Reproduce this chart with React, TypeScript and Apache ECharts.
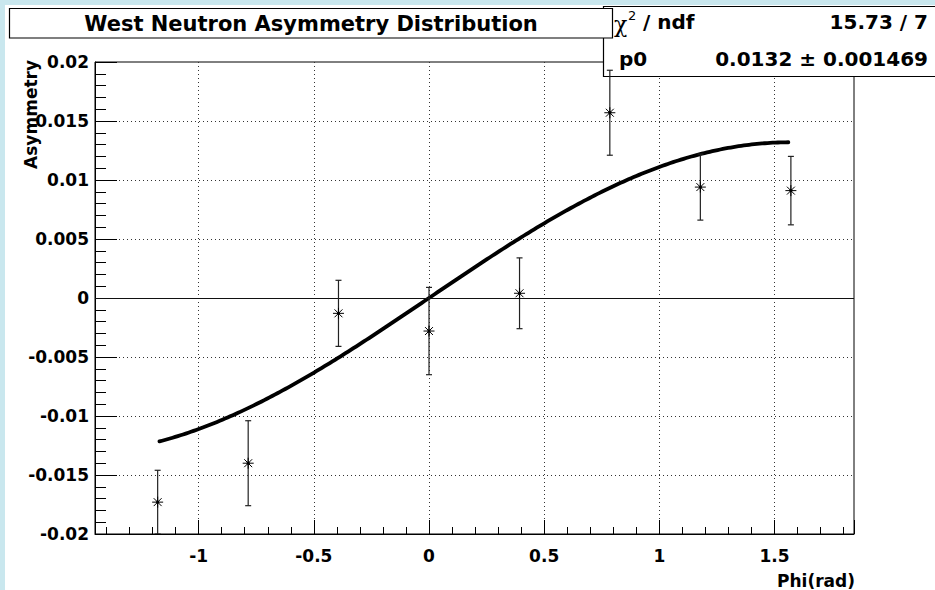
import React, { useEffect, useRef } from "react";
import * as echarts from "echarts";

// Measured asymmetry per phi bin (bin centres are multiples of pi/8)
const phiBins = [-1.178, -0.785, -0.393, 0, 0.393, 0.785, 1.178, 1.571];
const asymmetry = [-0.0173, -0.014, -0.0013, -0.0028, 0.0004, 0.0157, 0.0094, 0.0091];
const asymErr = [0.0027, 0.0036, 0.0028, 0.0037, 0.003, 0.0036, 0.0028, 0.0029];

// Fit p0 * sin(phi) and its statistics
const fitP0 = 0.0132;
const fitP0Err = 0.001469;
const chi2 = 15.73;
const ndf = 7;
const fitRange = [-1.17, 1.56];

// Axis ranges
const xRange = [-1.45, 1.845];
const yRange = [-0.02, 0.02];
const yTickStep = 0.005;

const titleText = "West Neutron Asymmetry Distribution";
const xTitle = "Phi(rad)";
const yTitle = "Asymmetry";

const FONT = '"DejaVu Sans", "Liberation Sans", Arial, sans-serif';

function buildFitCurve(): number[][] {
  const pts: number[][] = [];
  const n = 240;
  for (let i = 0; i <= n; i++) {
    const phi = fitRange[0] + ((fitRange[1] - fitRange[0]) * i) / n;
    pts.push([phi, fitP0 * Math.sin(phi)]);
  }
  return pts;
}

function buildOption(): any {
  const points = phiBins.map((p, i) => [p, asymmetry[i], asymErr[i]]);
  const axisLabelStyle = {
    fontFamily: FONT,
    fontWeight: "bold",
    fontSize: 17,
    color: "#000",
  };
  const gridLine = { show: true, showMinLine: false, showMaxLine: false, lineStyle: { color: "#333", width: 1, type: [1, 3] } };

  return {
    animation: false,
    backgroundColor: "#fff",
    grid: {
      left: 95,
      top: 62,
      width: 759,
      height: 472,
      show: true,
      borderColor: "#000",
      borderWidth: 1,
      backgroundColor: "transparent",
      containLabel: false,
      outerBoundsMode: "none",
    },
    xAxis: {
      type: "value",
      min: xRange[0],
      max: xRange[1],
      axisLine: { show: true, onZero: false, lineStyle: { color: "#000", width: 1 } },
      axisTick: { show: true, inside: true, length: 14, lineStyle: { color: "#000", width: 1 } },
      minorTick: { show: true, splitNumber: 5, length: 7, lineStyle: { color: "#000", width: 1 } },
      axisLabel: { ...axisLabelStyle, margin: 13, showMinLabel: false, showMaxLabel: false },
      splitLine: gridLine,
      minorSplitLine: { show: false },
    },
    yAxis: {
      type: "value",
      min: yRange[0],
      max: yRange[1],
      interval: yTickStep,
      axisLine: { show: true, onZero: false, lineStyle: { color: "#000", width: 1 } },
      axisTick: { show: true, inside: true, length: 22, lineStyle: { color: "#000", width: 1 } },
      minorTick: { show: true, splitNumber: 5, length: 11, lineStyle: { color: "#000", width: 1 } },
      axisLabel: { ...axisLabelStyle, margin: 6, showMinLabel: true, showMaxLabel: true },
      splitLine: gridLine,
      minorSplitLine: { show: false },
    },
    series: [
      {
        type: "line",
        name: "fit",
        data: buildFitCurve(),
        showSymbol: false,
        symbol: "none",
        smooth: false,
        z: 3,
        lineStyle: { color: "#000", width: 3.8, cap: "round", join: "round" },
        markLine: {
          silent: true,
          symbol: "none",
          label: { show: false },
          lineStyle: { color: "#111", width: 1, type: "solid" },
          data: [{ yAxis: 0 }],
        },
      },
      {
        type: "custom",
        name: "data",
        data: points,
        clip: true,
        z: 5,
        renderItem: (_params: any, api: any) => {
          const x = api.value(0);
          const y = api.value(1);
          const e = api.value(2);
          const c = api.coord([x, y]);
          const t = api.coord([x, y + e]);
          const b = api.coord([x, y - e]);
          const cap = 3;
          const r = 5.5;
          const d = r * 0.72;
          const bar = { stroke: "#222", lineWidth: 1.2 };
          const star = { stroke: "#000", lineWidth: 1 };
          return {
            type: "group",
            children: [
              { type: "line", shape: { x1: c[0], y1: t[1], x2: c[0], y2: b[1] }, style: bar },
              { type: "line", shape: { x1: c[0] - cap, y1: t[1], x2: c[0] + cap, y2: t[1] }, style: bar },
              { type: "line", shape: { x1: c[0] - cap, y1: b[1], x2: c[0] + cap, y2: b[1] }, style: bar },
              { type: "line", shape: { x1: c[0] - r, y1: c[1], x2: c[0] + r, y2: c[1] }, style: star },
              { type: "line", shape: { x1: c[0], y1: c[1] - r, x2: c[0], y2: c[1] + r }, style: star },
              { type: "line", shape: { x1: c[0] - d, y1: c[1] - d, x2: c[0] + d, y2: c[1] + d }, style: star },
              { type: "line", shape: { x1: c[0] - d, y1: c[1] + d, x2: c[0] + d, y2: c[1] - d }, style: star },
              { type: "circle", shape: { cx: c[0], cy: c[1], r: 1.6 }, style: { fill: "#000" } },
            ],
          };
        },
      },
    ],
    graphic: [
      // window edge strips
      { type: "rect", z: 1, shape: { x: 0, y: 0, width: 5, height: 590 }, style: { fill: "#c9e7ee" } },
      { type: "rect", z: 1, shape: { x: 0, y: 0, width: 935, height: 5 }, style: { fill: "#c9e7ee" } },
      // statistics box
      {
        type: "rect",
        z: 2,
        shape: { x: 603.5, y: 6.5, width: 340, height: 70 },
        style: { fill: "#fff", stroke: "#000", lineWidth: 1.2 },
      },
      { type: "text", z: 4, x: 614, y: 24, style: { text: "χ", font: '22px "DejaVu Serif", serif', fill: "#000", align: "left", verticalAlign: "middle" } },
      { type: "text", z: 4, x: 628, y: 15, style: { text: "2", font: '13px "DejaVu Sans", sans-serif', fill: "#000", align: "left", verticalAlign: "middle" } },
      { type: "text", z: 4, x: 643, y: 22, style: { text: "/ ndf", font: `bold 20px ${FONT}`, fill: "#000", align: "left", verticalAlign: "middle" } },
      { type: "text", z: 4, x: 928, y: 22, style: { text: `${chi2} / ${ndf}`, font: `bold 20px ${FONT}`, fill: "#000", align: "right", verticalAlign: "middle" } },
      { type: "text", z: 4, x: 619, y: 59, style: { text: "p0", font: `bold 20px ${FONT}`, fill: "#000", align: "left", verticalAlign: "middle" } },
      { type: "text", z: 4, x: 928, y: 59, style: { text: `${fitP0} ± ${fitP0Err}`, font: `bold 20px ${FONT}`, fill: "#000", align: "right", verticalAlign: "middle" } },
      // title box
      {
        type: "rect",
        z: 3,
        shape: { x: 9.5, y: 8.5, width: 603, height: 29.5 },
        style: { fill: "#fff", stroke: "#000", lineWidth: 1.2 },
      },
      { type: "text", z: 4, x: 311, y: 23.5, style: { text: titleText, font: `bold 21px ${FONT}`, fill: "#000", align: "center", verticalAlign: "middle" } },
      // axis titles
      { type: "text", z: 4, x: 855, y: 581, style: { text: xTitle, font: `bold 17px ${FONT}`, fill: "#000", align: "right", verticalAlign: "middle" } },
      { type: "text", z: 4, x: 31, y: 60, rotation: Math.PI / 2, style: { text: yTitle, font: `bold 17px ${FONT}`, fill: "#000", align: "right", verticalAlign: "middle" } },
    ],
  };
}

export default function App() {
  const ref = useRef<HTMLDivElement>(null);
  useEffect(() => {
    if (!ref.current) return;
    const chart = echarts.init(ref.current, null, { renderer: "svg" });
    chart.setOption(buildOption());
    return () => chart.dispose();
  }, []);
  return (
    <div
      ref={ref}
      style={{ position: "absolute", left: 0, top: 0, width: 935, height: 590, background: "#fff" }}
    />
  );
}
